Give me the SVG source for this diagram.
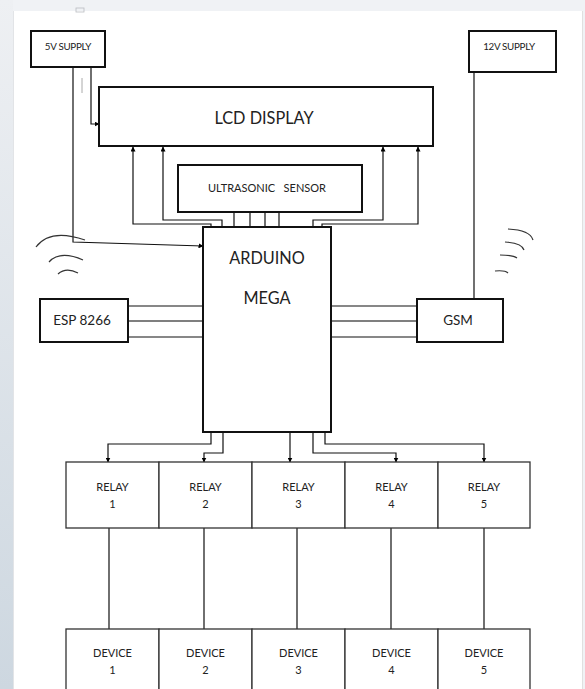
<svg xmlns="http://www.w3.org/2000/svg" width="585" height="689" viewBox="0 0 585 689">
<defs>
<linearGradient id="side" x1="0" y1="0" x2="0" y2="1">
<stop offset="0" stop-color="#eef0f3"/>
<stop offset="1" stop-color="#cdd7e0"/>
</linearGradient>
<marker id="ah" viewBox="0 0 10 10" refX="9" refY="5" markerWidth="5" markerHeight="5" markerUnits="userSpaceOnUse" orient="auto">
<path d="M0,0 L10,5 L0,10 z" fill="#000"/>
</marker>
<style>
.box{fill:#fff;stroke:#111;stroke-width:2}
.cell{fill:#fff;stroke:#333;stroke-width:1.3}
.w{fill:none;stroke:#111;stroke-width:1.2}
.wa{fill:none;stroke:#111;stroke-width:1.2;marker-end:url(#ah)}
.arc{fill:none;stroke:#333;stroke-width:1.2}
text{font-family:Lato,"Open Sans","Liberation Sans",sans-serif;fill:#222;text-anchor:middle}
.s9{font-size:9.8px;letter-spacing:-0.3px}
.s10{font-size:11px}
.s12{font-size:13.5px}
.s16{font-size:16.3px}
</style>
</defs>
<rect x="0" y="0" width="585" height="689" fill="#f0f2f5"/>
<rect x="0" y="0" width="13" height="689" fill="url(#side)"/>
<rect x="14" y="11" width="568" height="678" fill="#fff"/>
<line x1="13.5" y1="11" x2="13.5" y2="689" stroke="#e2e4e7" stroke-width="1"/>
<line x1="582.5" y1="11" x2="582.5" y2="689" stroke="#e0e0e0" stroke-width="1"/>
<rect x="76" y="8" width="8" height="4" fill="none" stroke="#b9bcc0" stroke-width="0.8"/>
<line x1="82" y1="78" x2="82" y2="93" stroke="#aaa" stroke-width="1"/>

<g id="connectors">
<path class="wa" d="M91,67 V124 H99"/>
<path class="wa" d="M73,67 V242 L203,246"/>
<path class="w" d="M474,72 V299"/>
<path class="wa" d="M211,227 V224 H133 V147"/>
<path class="wa" d="M222,227 V220 H163 V147"/>
<path class="wa" d="M313,227 V220 H383 V147"/>
<path class="wa" d="M322,227 V224 H418 V147"/>
<path class="w" d="M234,212 V227 M250,212 V227 M265,212 V227 M279,212 V227"/>
<path class="w" d="M128,306 H203 M128,337 H203 M331,306 H417 M331,337 H417"/>
<path d="M128,321 H203 M331,321 H417" fill="none" stroke="#555" stroke-width="1.5"/>
<path class="wa" d="M211,432 V444 H108 V462"/>
<path class="wa" d="M223,432 V453 H204 V462"/>
<path class="wa" d="M290,432 V462"/>
<path class="wa" d="M313,432 V453 H396 V462"/>
<path class="wa" d="M325,432 V444 H484 V462"/>
<path class="w" d="M109,528 V629 M204,528 V629 M297,528 V629 M391,528 V629 M484,528 V629"/>
</g>

<g id="signals">
<path class="arc" d="M36,247 Q50,228 85,240"/>
<path class="arc" d="M49,262 Q60,250 83,260"/>
<path class="arc" d="M58,274 Q66,267 78,273"/>
<path class="arc" d="M508,229 Q530,230 533,240"/>
<path class="arc" d="M505,242 Q522,243 524,250"/>
<path class="arc" d="M500,255 Q513,255 517,258"/>
<path class="arc" d="M495,271 Q505,270 508,273"/>
</g>

<g id="supply5v"><rect class="box" x="31" y="31" width="74" height="36"/><text class="s9" x="68" y="49.5">5V SUPPLY</text></g>
<g id="supply12v"><rect class="box" x="469" y="31" width="87" height="41"/><text class="s9" x="509" y="49.5">12V SUPPLY</text></g>
<g id="lcd"><rect class="box" x="99" y="87" width="334" height="59"/><text class="s16" x="264" y="124">LCD DISPLAY</text></g>
<g id="ultrasonic"><rect class="box" x="178" y="165" width="184" height="47"/><text class="s10" x="267" y="192" xml:space="preserve">ULTRASONIC   SENSOR</text></g>
<g id="arduino"><rect class="box" x="203" y="227" width="128" height="205"/><text class="s16" x="267" y="264">ARDUINO</text><text class="s16" x="267" y="304">MEGA</text></g>
<g id="esp"><rect class="box" x="40" y="299" width="88" height="43"/><text class="s12" x="82" y="325">ESP 8266</text></g>
<g id="gsm"><rect class="box" x="417" y="299" width="86" height="43"/><text class="s12" x="458" y="325">GSM</text></g>

<g id="relay1"><rect class="cell" x="66" y="462" width="93" height="66"/><text class="s10" x="112.5" y="491">RELAY</text><text class="s10" x="112.5" y="507.5">1</text></g>
<g id="relay2"><rect class="cell" x="159" y="462" width="93" height="66"/><text class="s10" x="205.5" y="491">RELAY</text><text class="s10" x="205.5" y="507.5">2</text></g>
<g id="relay3"><rect class="cell" x="252" y="462" width="93" height="66"/><text class="s10" x="298.5" y="491">RELAY</text><text class="s10" x="298.5" y="507.5">3</text></g>
<g id="relay4"><rect class="cell" x="345" y="462" width="93" height="66"/><text class="s10" x="391.5" y="491">RELAY</text><text class="s10" x="391.5" y="507.5">4</text></g>
<g id="relay5"><rect class="cell" x="438" y="462" width="92" height="66"/><text class="s10" x="484" y="491">RELAY</text><text class="s10" x="484" y="507.5">5</text></g>

<g id="device1"><rect class="cell" x="66" y="629" width="93" height="80"/><text class="s10" x="112.5" y="657">DEVICE</text><text class="s10" x="112.5" y="673.5">1</text></g>
<g id="device2"><rect class="cell" x="159" y="629" width="93" height="80"/><text class="s10" x="205.5" y="657">DEVICE</text><text class="s10" x="205.5" y="673.5">2</text></g>
<g id="device3"><rect class="cell" x="252" y="629" width="93" height="80"/><text class="s10" x="298.5" y="657">DEVICE</text><text class="s10" x="298.5" y="673.5">3</text></g>
<g id="device4"><rect class="cell" x="345" y="629" width="93" height="80"/><text class="s10" x="391.5" y="657">DEVICE</text><text class="s10" x="391.5" y="673.5">4</text></g>
<g id="device5"><rect class="cell" x="438" y="629" width="92" height="80"/><text class="s10" x="484" y="657">DEVICE</text><text class="s10" x="484" y="673.5">5</text></g>
</svg>
